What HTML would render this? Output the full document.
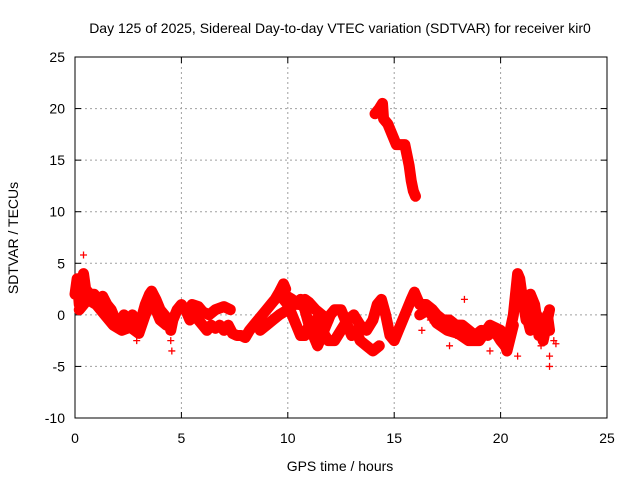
<!DOCTYPE html>
<html><head><meta charset="utf-8"><style>
body{margin:0;background:#fff;}
svg text{font-family:"Liberation Sans",sans-serif;font-size:14px;fill:#000;}
</style></head><body>
<svg id="chart" width="640" height="480" viewBox="0 0 640 480">
<rect width="640" height="480" fill="#fff"/>
<text x="340" y="33" text-anchor="middle">Day 125 of 2025, Sidereal Day-to-day VTEC variation (SDTVAR) for receiver kir0</text>
<g id="grid"></g>
<g id="axes"></g>
<g id="series"></g>
<text x="340" y="471" text-anchor="middle">GPS time / hours</text>
<text transform="translate(18,238) rotate(-90)" text-anchor="middle">SDTVAR / TECUs</text>
</svg>
<script>
const xTicks=[0,5,10,15,20,25];
const yTicks=[-10,-5,0,5,10,15,20,25];
const trackA=[[0,2],[0.1,3.5],[0.2,1],[0.3,2.5],[0.4,4],[0.5,2.5],[0.7,2],[0.9,2],[1.1,1.5],[1.3,1.8],[1.5,1],[1.7,0.5],[1.9,-0.5],[2.1,-1],[2.3,0],[2.5,-0.5],[2.7,0],[2.9,-1],[3.1,-0.5],[3.3,1],[3.5,2],[3.6,2.3],[3.8,1.5],[4.0,0.5],[4.2,0],[4.4,-0.5],[4.5,-1.5],[4.6,-0.5],[4.8,0.5],[5.0,1],[5.2,0.5],[5.4,-0.5],[5.6,0],[5.8,-0.5],[6.0,-1],[6.2,-1.5],[6.4,-1],[6.6,-1.3],[6.8,-1],[7.0,-1.5],[7.2,-1],[7.4,-1.8],[7.6,-2],[7.8,-2],[8.0,-2.2],[8.2,-1.5],[8.4,-1],[8.6,-0.5],[8.8,0],[9.0,0.5],[9.2,1],[9.4,1.5],[9.6,2.2],[9.8,3],[9.9,2.5]];
const trackB=[[5.5,1],[5.8,0.8],[6.0,0.3],[6.3,0],[6.6,0.5],[7.0,0.8],[7.3,0.5]];
const trackC=[[8.7,-1.5],[9.0,-1],[9.3,-0.5],[9.6,0],[10,0.5],[10.3,1],[10.6,1.5],[10.8,0.5],[11,-1],[11.2,-2],[11.4,-3],[11.6,-2],[11.8,-1],[12,0],[12.2,0.5],[12.5,0.5],[12.8,-1],[13,-2],[13.2,-1.5],[13.4,-2.5],[13.7,-3],[14,-3.5],[14.3,-3]];
const trackD=[[9.8,1.5],[10,1],[10.2,0],[10.4,-1],[10.6,-2],[10.8,-2],[11,-1],[11.3,-0.5],[11.6,-1.5],[11.9,-2.5],[12.2,-2.5],[12.5,-1.5],[12.8,-0.5],[13.1,0],[13.4,-1],[13.7,-1.5],[14,-0.5],[14.2,1],[14.4,1.5],[14.6,0],[14.8,-2],[15,-2.5],[15.2,-1.5],[15.4,-0.5],[15.6,0.5],[15.8,1.5],[15.95,2.2],[16.2,1],[16.5,1],[16.8,0.5],[17,0],[17.3,-0.5],[17.6,-0.5],[17.9,-1],[18.2,-1],[18.5,-1.5],[18.8,-2],[19.1,-1.5],[19.4,-2],[19.7,-1.5],[20,-2.5],[20.2,-3],[20.4,-2],[20.6,0],[20.8,4],[20.9,3.5],[21.0,2],[21.2,-0.5],[21.4,2],[21.6,1],[21.8,-2],[22,-1],[22.2,0],[22.3,-1.5]];
const trackE=[[9.8,2],[10.2,1.5],[10.5,1],[10.8,1.5],[11,1.2],[11.3,0.5],[11.6,0],[11.9,-0.5]];
const trackF=[[14.1,19.5],[14.3,20],[14.45,20.5],[14.5,19],[14.7,18.5],[14.9,17.5],[15.1,16.5],[15.3,16.5],[15.5,16.5],[15.6,15.5],[15.7,14.5],[15.8,13],[15.9,12],[16.0,11.5]];
const trackG=[[0.2,0.5],[0.6,1.5],[1.0,1],[1.4,0],[1.8,-1],[2.2,-1.5],[2.6,-1.2],[3.0,-1.8],[3.3,0],[3.6,1.5],[4.0,-0.5],[4.3,-1]];
const trackH=[[16.2,0],[16.6,0.5],[17,-0.8],[17.5,-1.5],[18,-1.8],[18.5,-2.5],[19,-2.5],[19.5,-1],[20,-1.5],[20.3,-3.5],[20.6,-1]];
const trackI=[[21.1,1],[21.4,-1.5],[21.7,0],[22,-2.5],[22.3,0.5]];
const scatter=[[4.55,-3.5],[4.5,-2.5],[0.4,5.8],[2.9,-2.5],[22.3,-5],[22.3,-4],[22.5,-2.5],[22.6,-2.8],[20.8,-4],[17.6,-3],[16.3,-1.5],[18.3,1.5],[19.5,-3.5],[21.9,-3],[16.7,-0.5],[17.9,-2]];
const tracks=[trackA,trackB,trackC,trackD,trackE,trackF,trackG,trackH,trackI];
const L=75,R=607,T=57,B=418;
const xs=t=>L+(t-0)/25*(R-L);
const ys=v=>B-(v+10)/35*(B-T);
const NS="http://www.w3.org/2000/svg";
const g=document.getElementById('grid'),ax=document.getElementById('axes'),s=document.getElementById('series');
function mk(tag,at,par){const e=document.createElementNS(NS,tag);for(const k in at)e.setAttribute(k,at[k]);par.appendChild(e);return e;}
xTicks.forEach(t=>{
 if(t>0&&t<25){const l=mk('line',{x1:xs(t),x2:xs(t),y1:T,y2:B,stroke:'#a0a0a0','stroke-dasharray':'2,3'},g);
 
 }
 const tx=mk('text',{x:xs(t),y:B+25,'text-anchor':'middle'},ax);tx.textContent=t;
 
 
 mk('line',{x1:xs(t),x2:xs(t),y1:B,y2:B-6,stroke:'#000'},ax);
 mk('line',{x1:xs(t),x2:xs(t),y1:T,y2:T+6,stroke:'#000'},ax);
});
yTicks.forEach(v=>{
 if(v>-10&&v<25){const l=mk('line',{x1:L,x2:R,y1:ys(v),y2:ys(v),stroke:'#a0a0a0','stroke-dasharray':'2,3'},g);
 
 }
 const tx=mk('text',{x:L-10,y:ys(v)+5,'text-anchor':'end'},ax);tx.textContent=v;
 
 
 mk('line',{x1:L,x2:L+6,y1:ys(v),y2:ys(v),stroke:'#000'},ax);
 mk('line',{x1:R,x2:R-6,y1:ys(v),y2:ys(v),stroke:'#000'},ax);
});
const fr=mk('rect',{x:L,y:T,width:R-L,height:B-T,fill:'none',stroke:'#000','stroke-width':1},ax);


function plus(t,v){const x=xs(t),y=ys(v);
 const p=mk('path',{d:`M${x-3.5},${y}H${x+3.5}M${x},${y-3.5}V${y+3.5}`,stroke:'#f00','stroke-width':1.3},s);
 
 }
tracks.forEach(tr=>{
 const pl=mk('polyline',{points:tr.map(p=>xs(p[0])+','+ys(p[1])).join(' '),fill:'none',stroke:'#f00','stroke-width':11,'stroke-linejoin':'round','stroke-linecap':'round'},s);
 
 
 tr.forEach(p=>plus(p[0],p[1]));
});
scatter.forEach(p=>plus(p[0],p[1]));
</script>
</body></html>
